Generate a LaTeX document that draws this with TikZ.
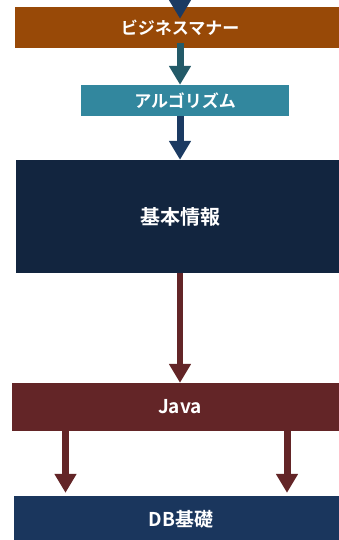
\documentclass[tikz,border=0pt]{standalone}
\usepackage{fontspec}
\setmainfont{Noto Sans CJK JP}[BoldFont={Noto Sans CJK JP Bold}]
\usepackage{tikz}
\usetikzlibrary{arrows.meta}

\definecolor{bizbrown}{RGB}{152,73,7}
\definecolor{algoteal}{RGB}{50,135,158}
\definecolor{tealarrow}{RGB}{35,90,104}
\definecolor{kihonnavy}{RGB}{18,37,63}
\definecolor{navyarrow}{RGB}{27,58,98}
\definecolor{javared}{RGB}{99,37,39}
\definecolor{dbblue}{RGB}{26,54,93}

\begin{document}
\begin{tikzpicture}[x=1pt, y=-1pt,
  every node/.style = {shape=rectangle, inner sep=0pt,
    text=white, font=\bfseries\fontsize{17pt}{20pt}\selectfont},
  flow/.style = {line width=7pt,
    -{Triangle[width=21pt, length=19pt]}}]
  \clip (0,0) rectangle (339,540);
  \node [fill=bizbrown, minimum width=330pt, minimum height=41pt]
    (biz) at (180,27.5) {ビジネスマナー};
  \node [fill=algoteal, minimum width=208pt, minimum height=31pt]
    (algo) at (185,100.5) {アルゴリズム};
  \node [fill=kihonnavy, minimum width=328pt, minimum height=113pt,
    font=\bfseries\fontsize{20pt}{24pt}\selectfont]
    (kihon) at (180,216.5) {基本情報};
  \node [fill=javared, minimum width=336pt, minimum height=48pt,
    font=\bfseries\fontsize{19pt}{22pt}\selectfont]
    (java) at (180,407) {Java};
  \node [fill=dbblue, minimum width=334pt, minimum height=46pt,
    font=\bfseries\fontsize{19pt}{22pt}\selectfont]
    (db) at (181,519) {DB基礎};
  \coordinate (entry) at (180,-10);
  % arrows between the courses
  \draw [flow, navyarrow] (entry) -- ([yshift=-12pt]biz.north);
  \draw [flow, tealarrow] ([yshift=5pt]biz.south) -- (algo.north -| biz.south);
  \draw [flow, navyarrow] (algo.south -| kihon.north) -- (kihon.north);
  \draw [flow, javared, line width=6.5pt] (kihon.south) -- (java.north);
  \draw [flow, javared] ([xshift=-114.5pt]java.south)
    -- ([xshift=-115.5pt,yshift=3pt]db.north);
  \draw [flow, javared] ([xshift=107pt]java.south)
    -- ([xshift=106pt,yshift=3pt]db.north);
\end{tikzpicture}
\end{document}
